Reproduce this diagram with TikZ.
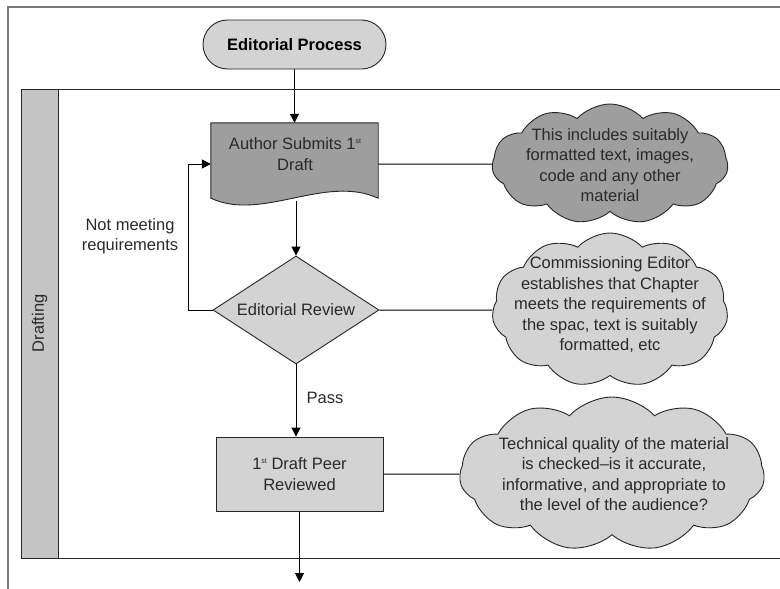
\documentclass[tikz,border=0pt]{standalone}
\usepackage{fontspec}
\setmainfont{Liberation Sans}
\usetikzlibrary{shapes.geometric,shapes.symbols,arrows.meta,backgrounds}

\definecolor{lightfill}{HTML}{D3D3D3}
\definecolor{darkfill}{HTML}{9E9E9E}
\definecolor{bandfill}{HTML}{C4C4C4}
\definecolor{inkgray}{HTML}{2A2A2A}
\definecolor{framegray}{HTML}{7A7A7A}

% small raised "st" ordinal
\newcommand{\ordst}{\raisebox{6.5pt}{\fontsize{7}{7}\selectfont st}}

\begin{document}
\begin{tikzpicture}[x=1pt,y=-1pt,
  every node/.style={font=\fontsize{16.5}{20.5}\selectfont, text=inkgray},
  outline/.style={draw=black!85, line width=0.9pt},
  conn/.style={draw=black, line width=1pt},
  flow/.style={conn, -{Triangle[width=9pt,length=9pt]}},
  terminal/.style={outline, fill=lightfill, rectangle, rounded corners=24.5pt,
    minimum width=183pt, minimum height=49pt,
    font=\bfseries\fontsize{16.5}{20}\selectfont, text=black},
  process/.style={outline, fill=lightfill, rectangle, align=center,
    minimum width=167pt, minimum height=74pt},
  decision/.style={outline, fill=lightfill, diamond, inner sep=0pt,
    minimum width=166pt, minimum height=108pt},
  cloudnote/.style={outline, cloud, cloud puffs=11, cloud puff arc=95,
    cloud ignores aspect, inner sep=0pt},
  plain/.style={align=center}
]
\clip (0,0) rectangle (780,589);

% page frame
\draw[framegray, line width=1.2pt] (8,600) -- (8,7) -- (790,7);

% swimlane
\draw[outline] (790,89) -- (21,89) -- (21,558) -- (790,558);
\filldraw[outline, fill=bandfill] (21,89) rectangle (58,558);
\node[rotate=90] (lane) at (39.5,323.5) {Drafting};

% start
\node[terminal] (start) at (294.5,44.5) {Editorial Process};

% document shape with wavy bottom
\node[minimum width=167pt, minimum height=75pt, inner sep=0pt] (doc) at (294.5,160.5) {};
\filldraw[outline, fill=darkfill]
  (doc.north west) -- (doc.north east) -- (doc.south east)
  .. controls (325,174) and (262,222) .. (doc.south west) -- cycle;
\node[plain] (doctext) at (295,154) {Author Submits 1\ordst\\Draft};

% decision
\node[decision, label={center:Editorial Review}] (dia) at (296,310) {};

% peer review
\node[process] (peer) at (299.5,474) {1\ordst\ Draft Peer\\Reviewed};

% notes
\node[cloudnote, fill=darkfill, minimum width=236pt, minimum height=120pt] (c1) at (610,164) {};
\node[plain] (c1t) at (610,165) {This includes suitably\\formatted text, images,\\code and any other\\material};

\node[cloudnote, fill=lightfill, minimum width=236pt, minimum height=154pt] (c2) at (610,310) {};
\node[plain] (c2t) at (610,305) {Commissioning Editor\\establishes that Chapter\\meets the requirements of\\the spac, text is suitably\\formatted, etc};

\node[cloudnote, fill=lightfill, minimum width=305pt, minimum height=154pt] (c3) at (612,474) {};
\node[plain] (c3t) at (614,474) {Technical quality of the material\\is checked--is it accurate,\\informative, and appropriate to\\the level of the audience?};

% edge labels
\node[plain] (notmeet) at (130,236) {Not meeting\\requirements};
\node (pass) at (325,398) {Pass};

\coordinate (next) at (299.5,582);
\coordinate (docbottom) at (296,201);
\coordinate (loopcorner) at (188,310);

% connectors behind the shapes
\begin{pgfonlayer}{background}
\draw[flow] (start.south) -- (doc.north);
\draw[flow] (docbottom) -- (dia.north);
\draw[flow] (dia.west) -- (loopcorner) |- ([yshift=-3.5pt]doc.west);
\draw[flow] (dia.south) -- (dia.south |- peer.north);
\draw[flow] (peer.south) -- (next);
\draw[conn] ([yshift=-3.5pt]doc.east) -- (c1.west);
\draw[conn] (dia.east) -- (c2.west);
\draw[conn] (peer.east) -- (c3.west);
\end{pgfonlayer}
\end{tikzpicture}
\end{document}
